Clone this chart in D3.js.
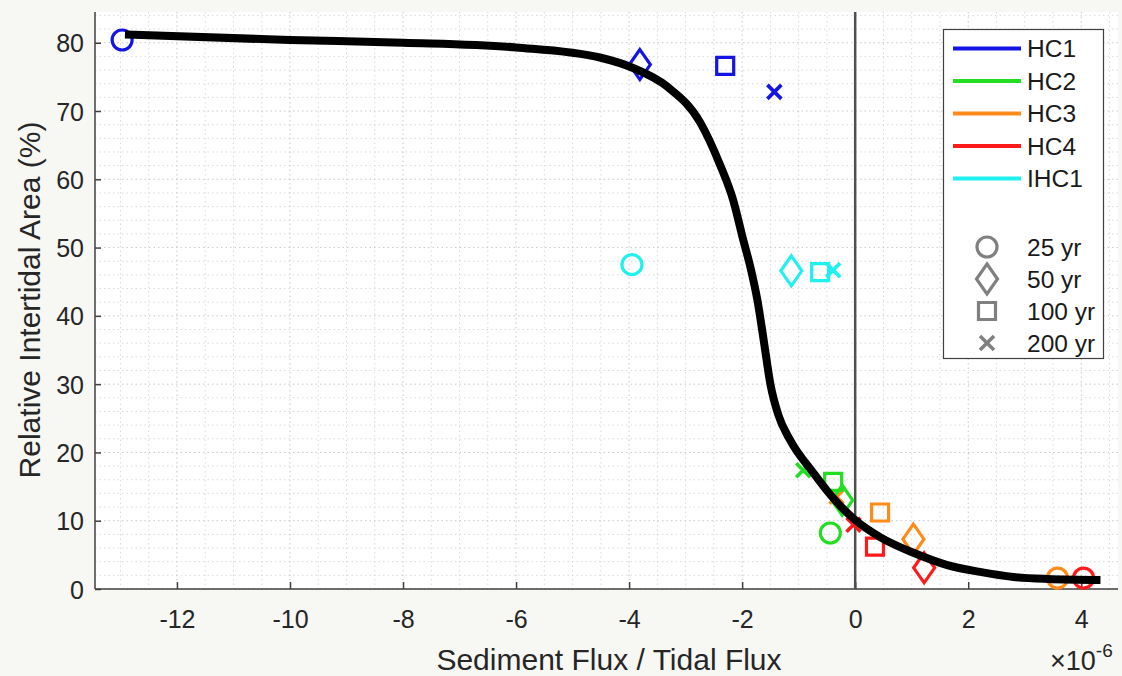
<!DOCTYPE html>
<html>
<head>
<meta charset="utf-8">
<script src="https://cdn.jsdelivr.net/npm/d3@7"></script>
<style>
html,body{margin:0;padding:0;background:#f7f7f3;}
svg{display:block;}
text{font-family:"Liberation Sans",Arial,Helvetica,sans-serif;}
</style>
</head>
<body>
<svg id="chart" width="1122" height="676"></svg>
<script>
// ---- data ----
const xTicks = [-12, -10, -8, -6, -4, -2, 0, 2, 4];
const yTicks = [0, 10, 20, 30, 40, 50, 60, 70, 80];
const seriesNames = ["HC1", "HC2", "HC3", "HC4", "IHC1"];
const seriesColors = ["#1414e6", "#22dd22", "#ff8c1a", "#ff1a1a", "#1ff0f0"];
const ages = ["25 yr", "50 yr", "100 yr", "200 yr"];
const ageShapes = ["circle", "diamond", "square", "cross"];
// each series: values for 25, 50, 100, 200 yr
const hc1X = [-12.97, -3.81, -2.30, -1.43];
const hc1Y = [80.4, 76.8, 76.6, 72.8];
const hc2X = [-0.44, -0.23, -0.39, -0.92];
const hc2Y = [8.2, 13.0, 15.7, 17.4];
const hc3X = [3.58, 1.03, 0.44, -0.33];
const hc3Y = [1.6, 7.3, 11.2, 13.5];
const hc4X = [4.04, 1.22, 0.35, -0.03];
const hc4Y = [1.6, 3.1, 6.2, 9.4];
const ihc1X = [-3.95, -1.13, -0.62, -0.39];
const ihc1Y = [47.5, 46.6, 46.4, 46.7];
// fitted curve
const curveX = [-12.92, -10, -8, -6, -4.5, -3.93, -3.33, -2.74, -2.39, -2.16, -1.98, -1.85, -1.73, -1.62, -1.50, -1.36, -1.15, -0.74, -0.44, 0, 0.44, 1.03, 1.63, 2.21, 2.80, 3.40, 4.34];
const curveY = [81.2, 80.4, 80.0, 79.3, 77.8, 76.3, 73.6, 68.3, 62.1, 57.0, 51.1, 47.0, 42.3, 36.5, 30.0, 25.5, 21.8, 17.0, 13.8, 10.1, 7.6, 5.3, 3.5, 2.5, 1.76, 1.47, 1.32];

const seriesX = [hc1X, hc2X, hc3X, hc4X, ihc1X];
const seriesY = [hc1Y, hc2Y, hc3Y, hc4Y, ihc1Y];

// ---- layout ----
const L = 95, R = 1118, T = 12, B = 589;
const svg = d3.select("#chart");
const x = d3.scaleLinear().domain([-13.45, 4.65]).range([L, R]);
const y = d3.scaleLinear().domain([0, 84.5]).range([B, T]);

svg.append("rect").attr("x", L).attr("y", T).attr("width", R - L).attr("height", B - T).attr("fill", "#ffffff");

const g = svg.append("g");
// minor grid
const minorX = d3.range(-13, 4.66, 0.5).filter(v => Math.abs(v % 2) > 1e-6);
const minorY = d3.range(2, 84.5, 2).filter(v => v % 10 !== 0);
g.selectAll(".mgx").data(minorX).enter().append("line")
  .attr("x1", d => x(d)).attr("x2", d => x(d)).attr("y1", T).attr("y2", B)
  .attr("stroke", "#dadada").attr("stroke-width", 1).attr("stroke-dasharray", "1.5,3");
g.selectAll(".mgy").data(minorY).enter().append("line")
  .attr("y1", d => y(d)).attr("y2", d => y(d)).attr("x1", L).attr("x2", R)
  .attr("stroke", "#dadada").attr("stroke-width", 1).attr("stroke-dasharray", "1.5,3");
// major grid
g.selectAll(".gx").data(xTicks).enter().append("line")
  .attr("x1", d => x(d)).attr("x2", d => x(d)).attr("y1", T).attr("y2", B)
  .attr("stroke", "#c8c8c8").attr("stroke-width", 1).attr("stroke-dasharray", "1.5,3");
g.selectAll(".gy").data(yTicks).enter().append("line")
  .attr("y1", d => y(d)).attr("y2", d => y(d)).attr("x1", L).attr("x2", R)
  .attr("stroke", "#c8c8c8").attr("stroke-width", 1).attr("stroke-dasharray", "1.5,3");

// axes
const xAxis = d3.axisBottom(x).tickValues(xTicks).tickSizeInner(-7).tickSizeOuter(0).tickPadding(21).tickFormat(d3.format("d"));
const yAxis = d3.axisLeft(y).tickValues(yTicks).tickSizeInner(-6).tickSizeOuter(0).tickPadding(11).tickFormat(d3.format("d"));
const gx = svg.append("g").attr("transform", `translate(0,${B})`).call(xAxis);
const gy = svg.append("g").attr("transform", `translate(${L},0)`).call(yAxis);
[gx, gy].forEach(a => {
  a.select(".domain").attr("stroke", "#404040").attr("stroke-width", 1.5);
  a.selectAll(".tick line").attr("stroke", "#404040").attr("stroke-width", 1.5);
  a.selectAll(".tick text").attr("fill", "#262626").attr("font-size", 25)
    .attr("font-family", "'Liberation Sans',Arial,sans-serif");
});
gx.selectAll(".tick text").text(d => d < 0 ? "-" + Math.abs(d) : d);
gy.selectAll(".tick text").attr("dy", "0.36em");
gx.select(".domain").attr("d", `M${L},0H${R}`);
gy.select(".domain").attr("d", `M0,${T}V${B}`);

// zero line
svg.append("line").attr("x1", x(0)).attr("x2", x(0)).attr("y1", T).attr("y2", B)
  .attr("stroke", "#505050").attr("stroke-width", 2.5);

// symbols
function shapePath(kind) {
  switch (kind) {
    case "circle": return "M10,0A10,10,0,1,1,-10,0A10,10,0,1,1,10,0Z";
    case "diamond": return "M0,-15L10.5,0L0,15L-10.5,0Z";
    case "square": return "M-8.5,-8.5H8.5V8.5H-8.5Z";
    case "cross": return "M-7,-7L7,7M-7,7L7,-7";
  }
}
function drawMarker(sel, kind, color) {
  return sel.append("path").attr("d", shapePath(kind))
    .attr("fill", "none").attr("stroke", color).attr("stroke-width", kind === "cross" ? 3.6 : 3.2);
}
const order = [0, 2, 3, 1, 4];
order.forEach(si => {
  seriesX[si].forEach((xv, k) => {
    const m = svg.append("g").attr("transform", `translate(${x(xv)},${y(seriesY[si][k])})`);
    drawMarker(m, ageShapes[k], seriesColors[si]);
  });
});

// curve
const line = d3.line().x(d => x(d[0])).y(d => y(d[1])).curve(d3.curveMonotoneX);
svg.append("path").datum(curveX.map((v, i) => [v, curveY[i]]))
  .attr("d", line).attr("fill", "none").attr("stroke", "#000").attr("stroke-width", 8);

// axis titles
svg.append("text").attr("x", 609).attr("y", 670).attr("text-anchor", "middle")
  .attr("font-size", 30).attr("fill", "#262626").text("Sediment Flux / Tidal Flux");
svg.append("text").attr("transform", `translate(40,300) rotate(-90)`).attr("text-anchor", "middle")
  .attr("font-size", 30).attr("fill", "#262626").text("Relative Intertidal Area (%)");
const exp = svg.append("text").attr("x", 1050).attr("y", 670).attr("font-size", 27).attr("fill", "#262626");
exp.append("tspan").text("×10");
exp.append("tspan").attr("dy", -13).attr("font-size", 19).text("-6");

// legend
const lg = svg.append("g");
lg.append("rect").attr("x", 943.5).attr("y", 29.5).attr("width", 160).attr("height", 329)
  .attr("fill", "#fff").attr("stroke", "#404040").attr("stroke-width", 1.2);
seriesNames.forEach((nm, i) => {
  const yy = 48.5 + i * 32.5;
  lg.append("line").attr("x1", 953).attr("x2", 1021).attr("y1", yy).attr("y2", yy)
    .attr("stroke", seriesColors[i]).attr("stroke-width", 4);
  lg.append("text").attr("x", 1027).attr("y", yy).attr("dy", "0.36em").attr("font-size", 24.5)
    .attr("fill", "#1a1a1a").text(nm);
});
ages.forEach((a, k) => {
  const yy = [247, 279, 311, 343][k];
  const m = lg.append("g").attr("transform", `translate(987,${yy})`);
  drawMarker(m, ageShapes[k], "#808080");
  lg.append("text").attr("x", 1027).attr("y", yy).attr("dy", "0.36em").attr("font-size", 24.5)
    .attr("fill", "#1a1a1a").text(a);
});
</script>
</body>
</html>
